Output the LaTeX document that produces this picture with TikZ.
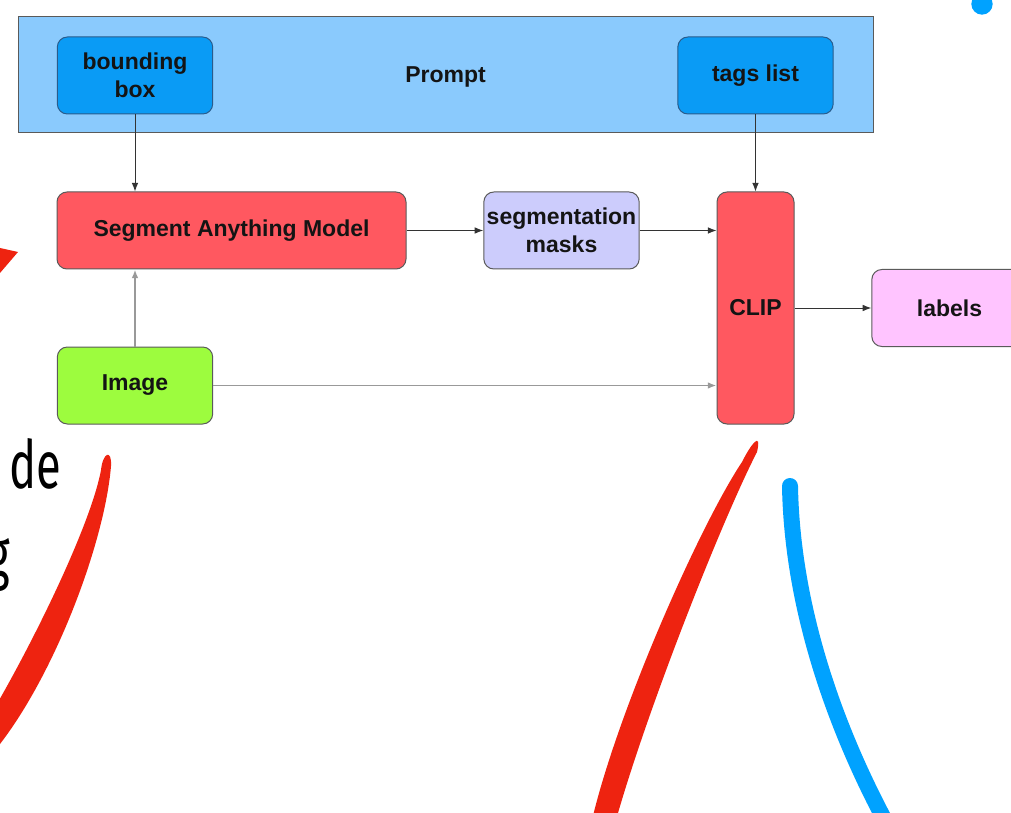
\documentclass[tikz,border=0pt]{standalone}
\usepackage{fontspec}
\setmainfont{Liberation Sans}
\newfontfamily\condfont[FakeStretch=0.68]{Fira Sans}
\usetikzlibrary{arrows.meta,positioning}
\definecolor{promptfill}{HTML}{8ACAFD}
\definecolor{bluebox}{HTML}{0A9BF5}
\definecolor{bluedraw}{HTML}{2A5C8C}
\definecolor{samred}{HTML}{FF5860}
\definecolor{lav}{HTML}{CCCCFC}
\definecolor{pinkbox}{HTML}{FFC4FF}
\definecolor{greenbox}{HTML}{9DFC3E}
\definecolor{inkred}{HTML}{EE2310}
\definecolor{inkblue}{HTML}{00A2FF}
\definecolor{edgegray}{HTML}{5A5A5A}
\begin{document}
\begin{tikzpicture}[x=0.75pt,y=-0.75pt,
  boxstyle/.style={draw=edgegray, line width=0.75pt, rounded corners=7.5pt,
    minimum width=116.5pt, minimum height=57.75pt, align=center, inner sep=0pt,
    font=\bfseries\fontsize{17.25}{21}\selectfont, text=black!92},
  bluestyle/.style={boxstyle, fill=bluebox, draw=bluedraw},
  conn/.style={draw=black!80, line width=0.75pt, -{Latex[length=6.5pt,width=5pt]}},
  connlight/.style={draw=black!40, line width=1.3pt, -{Latex[length=6.5pt,width=5pt]}},
  handtext/.style={inner sep=0pt, font=\condfont\fontsize{50}{60}\selectfont}]
\useasboundingbox (0,0) rectangle (1011,813);
\clip (0,0) rectangle (1011,813);
\fill[white] (0,0) rectangle (1011,813);

% Prompt container
\node[draw=edgegray, fill=promptfill, line width=0.75pt, minimum width=641.25pt, minimum height=87pt,
  inner sep=0pt] (prompt) at (445.5,75) {};
\node[font=\bfseries\fontsize{17.25}{21}\selectfont, text=black!92, inner sep=0pt] (prompttext) at (445.5,77) {Prompt};
\node[bluestyle] (bbox) at (135,75.5) {bounding\\box};
\node[bluestyle] (tags) at (755.5,75.5) {tags list};

% Main boxes
\node[boxstyle, fill=samred, minimum width=261.75pt] (sam) at (231.5,230.5) {Segment Anything Model};
\node[boxstyle, fill=lav] (seg) at (561.5,230.5) {segmentation\\masks};
\node[boxstyle, fill=samred, minimum width=57.75pt, minimum height=174pt] (clip) at (755.5,308) {CLIP};
\node[boxstyle, fill=pinkbox] (labels) at (949.5,308) {labels};
\node[boxstyle, fill=greenbox] (img) at (135,385.5) {Image};

% Connectors
\draw[conn] (bbox.south) -- (sam.north -| bbox.south);
\draw[connlight] (img.north) -- (sam.south -| img.north);
\draw[conn] (sam.east) -- (seg.west);
\draw[conn] (seg.east) -- (clip.west |- seg.east);
\draw[conn] (tags.south) -- (clip.north);
\draw[connlight] (img.east) -- (clip.west |- img.east);
\draw[conn] (clip.east) -- (labels.west);

% Hand-drawn annotations
\fill[inkred] (0,248) -- (18,252) -- (0,273) -- cycle;
\fill[inkred] (101,470) .. controls (103,452) and (112,449) .. (111,466)
  .. controls (105,540) and (57,670) .. (0,744) -- (-26,742)
  .. controls (20,670) and (90,530) .. (101,470) -- cycle;
\fill[inkred] (742,462) .. controls (751,444) and (762,430) .. (757,452)
  .. controls (722,520) and (647,710) .. (616,820) -- (592,820)
  .. controls (618,710) and (700,525) .. (742,462) -- cycle;
\draw[inkblue, line width=12pt, line cap=round] (790,486) .. controls (792,600) and (830,720) .. (890,830);
\fill[inkblue] (982,4) circle[radius=8pt];

% Partial text at the left edge
\node[handtext, anchor=base west] (de) at (9,488) {de};
\node[handtext, anchor=base east] (g) at (10,577) {g};
\end{tikzpicture}
\end{document}
